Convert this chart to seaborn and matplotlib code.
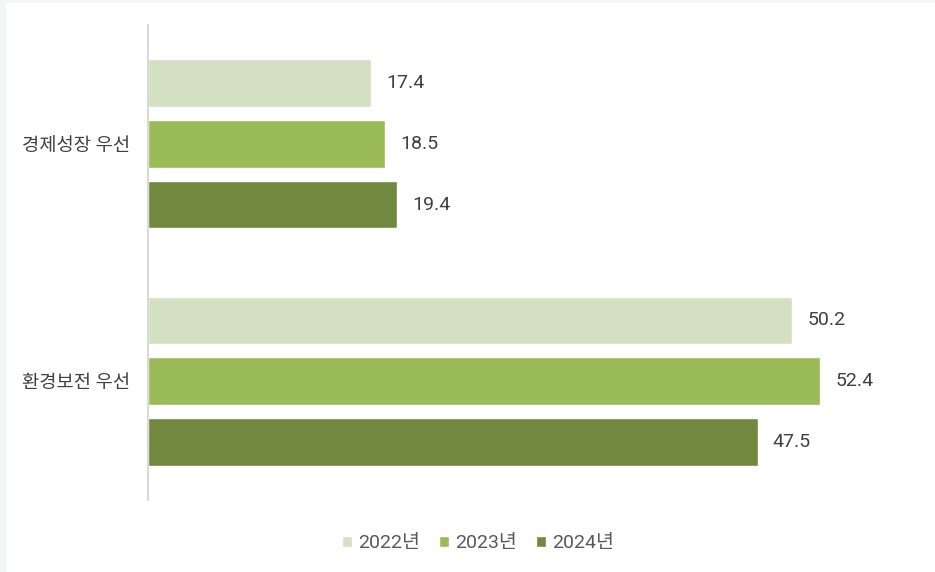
import matplotlib
matplotlib.use("Agg")
import matplotlib.pyplot as plt
import seaborn as sns
import pandas as pd
from matplotlib.patches import Rectangle

categories = ['경제성장 우선', '환경보전 우선']
years = ['2022년', '2023년', '2024년']
v2022 = [17.4, 50.2]
v2023 = [18.5, 52.4]
v2024 = [19.4, 47.5]
colors = ['#D3E0C2', '#9BBB59', '#71893F']

df = pd.DataFrame({
    'category': categories * 3,
    'year': [years[0]] * 2 + [years[1]] * 2 + [years[2]] * 2,
    'value': v2022 + v2023 + v2024,
})

sns.set_style('white')
plt.rcParams['font.family'] = ['Roboto', 'Noto Sans CJK KR', 'DejaVu Sans']

fig = plt.figure(figsize=(9.35, 5.72), dpi=100)
fig.patch.set_facecolor('#F4F6F5')
# white card inside a thin grey frame (left and top)
fig.patches.append(Rectangle((6 / 935, 0), 1, 1 - 3 / 572, transform=fig.transFigure,
                             facecolor='white', edgecolor='none', zorder=-10))

ax = fig.add_axes([148 / 935, 72 / 572, 770 / 935, 475 / 572])
ax.set_facecolor('none')
ax.set_zorder(5)
sns.barplot(data=df, y='category', x='value', hue='year', orient='h',
            palette=colors, width=0.77, gap=0.22, saturation=1, ax=ax,
            legend=True, errorbar=None)

for cont in ax.containers:
    ax.bar_label(cont, fmt='%.1f', padding=11, fontsize=14, color='#404040')

ax.set_xlim(0, 60)
ax.set_ylim(1.5, -0.5)
ax.set_xlabel('')
ax.set_ylabel('')
ax.set_xticks([])
ax.tick_params(axis='y', length=0, pad=13, labelsize=13.5, labelcolor='#404040')
for s in ['top', 'right', 'bottom']:
    ax.spines[s].set_visible(False)
ax.spines['left'].set_color('#D9D9D9')
ax.spines['left'].set_linewidth(1.5)

handles, labels = ax.get_legend_handles_labels()
ax.legend(handles, labels, loc='center', bbox_to_anchor=(478 / 935, 29 / 572),
          bbox_transform=fig.transFigure, ncol=3, frameon=False, fontsize=14,
          handlelength=0.5, handleheight=0.5, handletextpad=0.3, columnspacing=1.0,
          labelcolor='#595959')

fig.savefig('out.png', dpi=100, facecolor=fig.get_facecolor())
